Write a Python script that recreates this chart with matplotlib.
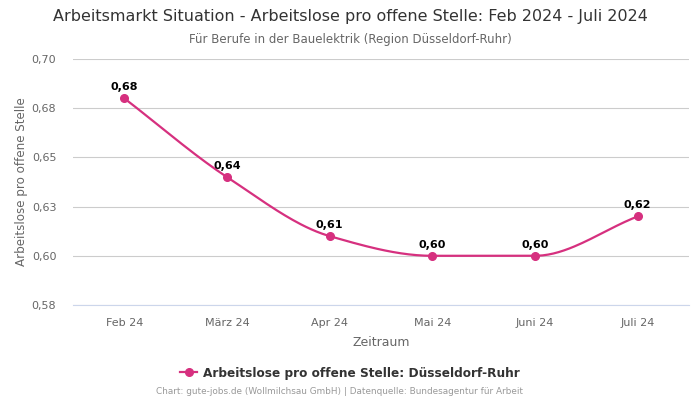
import numpy as np
import matplotlib
matplotlib.use("Agg")
import matplotlib.pyplot as plt
from matplotlib.lines import Line2D
from decimal import Decimal, ROUND_HALF_UP

# data ------------------------------------------------
monate = ["Feb 24", "März 24", "Apr 24", "Mai 24", "Juni 24", "Juli 24"]
werte = [0.68, 0.64, 0.61, 0.60, 0.60, 0.62]
y_ticks = [0.575, 0.60, 0.625, 0.65, 0.675, 0.70]

farbe = "#d6307f"


def fmt(v):
    # German decimal comma, round half up like the original
    d = Decimal(str(v)).quantize(Decimal("0.01"), rounding=ROUND_HALF_UP)
    return str(d).replace(".", ",")


def monotone_kurve(x, y, n=40):
    # monotone cubic (Fritsch-Carlson) for the smooth line
    x = np.asarray(x, float)
    y = np.asarray(y, float)
    h = np.diff(x)
    d = np.diff(y) / h
    m = np.zeros_like(y)
    m[0], m[-1] = d[0], d[-1]
    for i in range(1, len(y) - 1):
        if d[i - 1] * d[i] <= 0:
            m[i] = 0
        else:
            w1 = 2 * h[i] + h[i - 1]
            w2 = h[i] + 2 * h[i - 1]
            m[i] = (w1 + w2) / (w1 / d[i - 1] + w2 / d[i])
    xs, ys = [], []
    for i in range(len(x) - 1):
        t = np.linspace(0, 1, n)
        h00 = 2 * t**3 - 3 * t**2 + 1
        h10 = t**3 - 2 * t**2 + t
        h01 = -2 * t**3 + 3 * t**2
        h11 = t**3 - t**2
        xs.append(x[i] + t * h[i])
        ys.append(h00 * y[i] + h10 * h[i] * m[i] + h01 * y[i + 1] + h11 * h[i] * m[i + 1])
    return np.concatenate(xs), np.concatenate(ys)


fig = plt.figure(figsize=(7, 4), dpi=100)
ax = fig.add_axes([73 / 700, 1 - 305 / 400, 616 / 700, 246 / 400])

x = np.arange(len(monate))
kx, ky = monotone_kurve(x, werte)
ax.plot(kx, ky, color=farbe, lw=1.6, zorder=3)
ax.plot(x, werte, "o", color=farbe, ms=5.5, zorder=4)

for xi, v in zip(x, werte):
    ax.annotate(fmt(v), (xi, v), xytext=(0, 4.5),
                textcoords="offset points", ha="center", va="bottom",
                fontsize=8, fontweight="bold", color="black")

ax.set_xlim(-0.5, len(monate) - 0.5)
ax.set_ylim(0.575, 0.70)
ax.set_xticks(x)
ax.set_xticklabels(monate)
ax.set_yticks(y_ticks)
ax.set_yticklabels([fmt(v) for v in y_ticks])
ax.tick_params(axis="both", length=0, labelsize=8, labelcolor="#666666")
ax.tick_params(axis="x", pad=9)
ax.tick_params(axis="y", pad=12)
ax.grid(axis="y", color="#cccccc", lw=0.8)
ax.set_axisbelow(True)
for s in ["top", "right", "left"]:
    ax.spines[s].set_visible(False)
ax.spines["bottom"].set_color("#ccd6eb")

ax.set_xlabel("Zeitraum", fontsize=9, color="#666666", labelpad=6)
ax.set_ylabel("Arbeitslose pro offene Stelle", fontsize=8.6, color="#666666", labelpad=3)

fig.text(0.5, 1 - 17 / 400, "Arbeitsmarkt Situation - Arbeitslose pro offene Stelle: Feb 2024 - Juli 2024",
         ha="center", va="center", fontsize=11.5, color="#333333")
fig.text(0.5, 1 - 39 / 400, "Für Berufe in der Bauelektrik (Region Düsseldorf-Ruhr)",
         ha="center", va="center", fontsize=8.5, color="#666666")

handle = Line2D([0], [0], color=farbe, marker="o", ms=5.5, lw=1.6)
fig.legend([handle], ["Arbeitslose pro offene Stelle: Düsseldorf-Ruhr"], loc="center",
           bbox_to_anchor=(0.5, 1 - 373 / 400), frameon=False, handlelength=1.4,
           handletextpad=0.5, prop={"size": 8.7, "weight": "bold"}, labelcolor="#333333")

fig.text(339 / 700, 1 - 392 / 400, "Chart: gute-jobs.de (Wollmilchsau GmbH) | Datenquelle: Bundesagentur für Arbeit",
         ha="center", va="center", fontsize=6.4, color="#999999")

fig.savefig("out.png", dpi=100)
